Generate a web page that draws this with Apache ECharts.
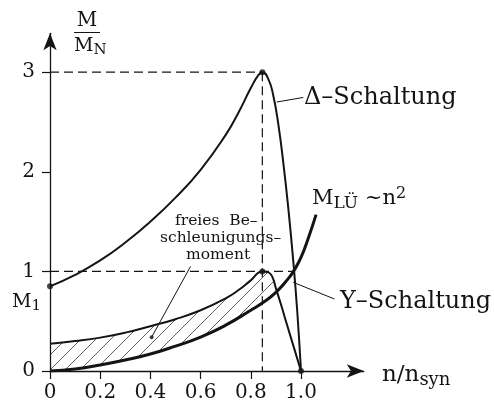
<!DOCTYPE html>
<html>
<head>
<meta charset="utf-8">
<script src="https://cdn.jsdelivr.net/npm/echarts@6/dist/echarts.min.js"></script>
<style>
  html, body { margin: 0; padding: 0; background: #fff; }
  #chart { width: 494px; height: 403px; }
</style>
</head>
<body>
<div id="chart"></div>
<script>
// Torque of the motor in delta connection, M/MN over n/nsyn
const deltaN = [0, 0.1, 0.2, 0.3, 0.4, 0.5, 0.6, 0.7, 0.75, 0.8, 0.83, 0.846, 0.87, 0.89, 0.91, 0.93, 0.95, 0.97, 0.985, 1.0];
const deltaM = [0.85, 0.965, 1.11, 1.29, 1.50, 1.74, 2.02, 2.37, 2.59, 2.84, 2.97, 3.0, 2.93, 2.76, 2.47, 2.08, 1.62, 1.08, 0.60, 0];

// Torque in star (Y) connection
const starN = [0, 0.1, 0.2, 0.3, 0.4, 0.5, 0.6, 0.7, 0.75, 0.8, 0.846, 0.87, 0.885, 0.9, 0.92, 0.94, 0.97, 1.0];
const starM = [0.273, 0.30, 0.335, 0.385, 0.45, 0.52, 0.61, 0.73, 0.81, 0.91, 1.0, 0.99, 0.95, 0.83, 0.67, 0.50, 0.25, 0];

// Load torque of the fan, M_LÜ ~ n²
const loadN = [0, 0.1, 0.2, 0.3, 0.4, 0.5, 0.6, 0.7, 0.8, 0.85, 0.9, 0.95, 0.97, 1.0, 1.03, 1.06];
const loadM = [0, 0.02, 0.06, 0.11, 0.17, 0.25, 0.34, 0.46, 0.61, 0.69, 0.79, 0.93, 1.0, 1.14, 1.34, 1.57];

// Axis ticks
const xTicks = [0, 0.2, 0.4, 0.6, 0.8, 1.0];
const xTickLabels = ['0', '0.2', '0.4', '0.6', '0.8', '1.0'];
const yTicks = [0, 1, 2, 3];
const yTickLabels = ['0', '1', '2', '3'];

// Dashed guide lines (breakdown torque and its speed)
const guideTop = [[0, 3], [0.846, 3]];
const guideOne = [[0, 1], [0.97, 1]];
const guideVert = [[0.846, 3], [0.846, 0]];

// Leader lines of the annotations
const leaderDelta = [[0.903, 2.70], [1.009, 2.746]];
const leaderStar = [[0.969, 0.89], [1.133, 0.723]];
const leaderFree = [[0.405, 0.34], [0.56, 1.05]];

// Marked points
const dots = [[0, 0.85], [0.846, 3], [0.846, 1], [1.0, 0]];
const smallDots = [[0.405, 0.34]];

const pairs = (xs, ys) => xs.map((x, i) => [x, ys[i]]);

function hatchPattern() {
  const s = 15;
  const c = document.createElement('canvas');
  c.width = s; c.height = s;
  const g = c.getContext('2d');
  g.strokeStyle = '#444';
  g.lineWidth = 0.85;
  g.beginPath();
  g.moveTo(0, s); g.lineTo(s, 0);
  g.moveTo(-s / 2, s / 2); g.lineTo(s / 2, -s / 2);
  g.moveTo(s / 2, s * 1.5); g.lineTo(s * 1.5, s / 2);
  g.stroke();
  return c;
}

const INK = '#141414';
const FONT = '"DejaVu Serif", serif';
const SMOOTH = 0.5;

const labelFor = (ticks, labels) => (v) => {
  const i = ticks.findIndex(t => Math.abs(t - v) < 1e-6);
  return i >= 0 ? labels[i] : '';
};

const dashed = (data) => ({
  type: 'line', data, symbol: 'none', silent: true, z: 4,
  lineStyle: { color: INK, width: 1.2, type: [9, 5] }
});
const leader = (data) => ({
  type: 'line', data, symbol: 'none', silent: true, z: 4,
  lineStyle: { color: INK, width: 1 }
});
const note = (text, left, top) => ({
  type: 'text', left, top, z: 10,
  style: { text, font: '15.5px ' + FONT, fill: INK }
});

const chart = echarts.init(document.getElementById('chart'), null, { renderer: 'canvas' });

chart.setOption({
  backgroundColor: '#fff',
  animation: false,
  grid: { left: 50, top: 33.3, bottom: 30.7, right: 130.25, containLabel: false },
  xAxis: {
    type: 'value', min: 0, max: 1.25, z: 6,
    axisLine: { show: true, symbol: ['none', 'arrow'], symbolSize: [10, 17], lineStyle: { color: INK, width: 1.3 } },
    axisTick: { show: true, inside: false, length: 8, customValues: xTicks, lineStyle: { color: INK, width: 1.2 } },
    axisLabel: { customValues: xTicks, formatter: labelFor(xTicks, xTickLabels), margin: 12, color: INK, fontFamily: FONT, fontSize: 20 },
    splitLine: { show: false }
  },
  yAxis: {
    type: 'value', min: 0, max: 3.39, z: 6,
    axisLine: { show: true, symbol: ['none', 'arrow'], symbolSize: [10, 17], lineStyle: { color: INK, width: 1.3 } },
    axisTick: { show: true, inside: false, length: 8, customValues: yTicks, lineStyle: { color: INK, width: 1.2 } },
    axisLabel: { customValues: yTicks, formatter: labelFor(yTicks, yTickLabels), margin: 15, color: INK, fontFamily: FONT, fontSize: 20 },
    splitLine: { show: false }
  },
  series: [
    // hatched region under the Y curve, later cut off by the load curve's white fill
    {
      type: 'line', data: pairs(starN, starM), smooth: SMOOTH, symbol: 'none', silent: true, z: 1,
      lineStyle: { width: 0, opacity: 0 },
      areaStyle: { color: { image: hatchPattern(), repeat: 'repeat' }, opacity: 1 }
    },
    // load torque curve
    {
      type: 'line', data: pairs(loadN, loadM), smooth: SMOOTH, symbol: 'none', silent: true, z: 2,
      lineStyle: { color: INK, width: 3 },
      areaStyle: { color: '#ffffff', opacity: 1 }
    },
    // Y connection
    {
      type: 'line', data: pairs(starN, starM), smooth: SMOOTH, symbol: 'none', silent: true, z: 3,
      lineStyle: { color: INK, width: 2 }
    },
    // delta connection
    {
      type: 'line', data: pairs(deltaN, deltaM), smooth: SMOOTH, symbol: 'none', silent: true, z: 3,
      lineStyle: { color: INK, width: 2 }
    },
    dashed(guideTop), dashed(guideOne), dashed(guideVert),
    leader(leaderDelta), leader(leaderStar), leader(leaderFree),
    {
      type: 'scatter', data: dots, symbolSize: 6, silent: true, z: 5,
      itemStyle: { color: INK }
    },
    {
      type: 'scatter', data: smallDots, symbolSize: 4, silent: true, z: 5,
      itemStyle: { color: INK }
    }
  ],
  graphic: [
    { type: 'text', x: 87, y: 11, z: 10,
      style: { text: 'M', font: '20px ' + FONT, fill: INK, align: 'center' } },
    { type: 'line', z: 10, shape: { x1: 74, y1: 32.5, x2: 100, y2: 32.5 }, style: { stroke: INK, lineWidth: 1 } },
    { type: 'text', left: 74, top: 37, z: 10,
      style: { text: 'M{s|N}', font: '19px ' + FONT, fill: INK,
        rich: { s: { fontSize: 15, fontFamily: FONT, padding: [8, 0, 0, 0] } } } },
    { type: 'text', left: 304, top: 86, z: 10,
      style: { text: 'Δ–Schaltung', font: '24px ' + FONT, fill: INK } },
    { type: 'text', left: 312, top: 186, z: 10,
      style: { text: 'M{s|LÜ} ~n{p|2}', font: '21px ' + FONT, fill: INK,
        rich: { s: { fontSize: 17, fontFamily: FONT, padding: [10, 0, 0, 0] }, p: { fontSize: 16, fontFamily: FONT, padding: [0, 0, 10, 0] } } } },
    note('freies  Be–', 175, 213),
    note('schleunigungs–', 160, 230),
    note('moment', 186, 247),
    { type: 'text', left: 340, top: 290, z: 10,
      style: { text: 'Y–Schaltung', font: '24px ' + FONT, fill: INK } },
    { type: 'text', left: 12, top: 293, z: 10,
      style: { text: 'M{s|1}', font: '19px ' + FONT, fill: INK,
        rich: { s: { fontSize: 15, fontFamily: FONT, padding: [8, 0, 0, 0] } } } },
    { type: 'text', left: 382, top: 364, z: 10,
      style: { text: 'n/n{s|syn}', font: '23px ' + FONT, fill: INK,
        rich: { s: { fontSize: 18, fontFamily: FONT, padding: [9, 0, 0, 0] } } } }
  ]
});
</script>
</body>
</html>
